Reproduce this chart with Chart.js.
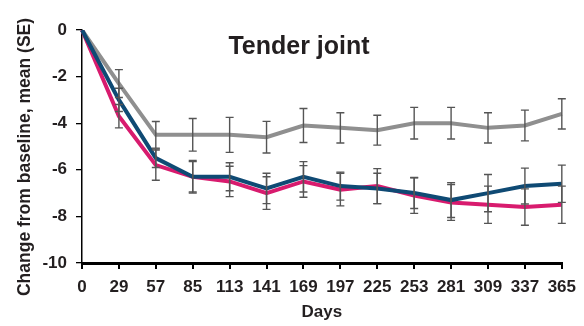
<!DOCTYPE html>
<html>
<head>
<meta charset="utf-8">
<script src="https://cdn.jsdelivr.net/npm/chart.js@4/dist/chart.umd.min.js"></script>
<style>
html,body{margin:0;padding:0;background:#fff;}
#wrap{width:584px;height:326px;}
</style>
</head>
<body>
<div id="wrap"><canvas id="tenderChart"></canvas></div>
<script>
// days on x axis
const days = ["0","29","57","85","113","141","169","197","225","253","281","309","337","365"];

// mean change, three arms
const navyMean = [0,-3.0,-5.5,-6.3,-6.3,-6.8,-6.3,-6.7,-6.8,-7.0,-7.3,-7.0,-6.7,-6.6];
const pinkMean = [0,-3.7,-5.8,-6.3,-6.5,-7.0,-6.5,-6.85,-6.7,-7.1,-7.4,-7.5,-7.6,-7.5];
const grayMean = [0,-2.3,-4.5,-4.5,-4.5,-4.6,-4.1,-4.2,-4.3,-4.0,-4.0,-4.2,-4.1,-3.6];

// SE
const navySE = [0,0.5,0.4,0.65,0.6,0.65,0.65,0.6,0.65,0.66,0.75,0.8,0.77,0.8];
const pinkSE = [0,0.5,0.65,0.7,0.65,0.7,0.68,0.7,0.75,0.77,0.77,0.8,0.78,0.8];
const graySE = [0,0.6,0.57,0.7,0.75,0.68,0.73,0.65,0.64,0.68,0.68,0.65,0.66,0.65];

const yTitle = "Change from baseline, mean (SE)";

const FONT = "'Liberation Sans', Arial, sans-serif";
const TXT = "#231f20";

/* error bars drawn over the lines */
const errorBars = {
  id:"errorBars",
  afterDatasetsDraw(chart){
    const ctx = chart.ctx;
    const x = chart.scales.x, y = chart.scales.y;
    ctx.save();
    ctx.strokeStyle = "#555";
    ctx.lineWidth = 1.4;
    chart.data.datasets.forEach(ds=>{
      ds.data.forEach((v,i)=>{
        const se = ds.se[i];
        if(!se) return;
        const px = x.getPixelForValue(i);
        const top = y.getPixelForValue(v+se);
        const bot = y.getPixelForValue(v-se);
        ctx.beginPath();
        ctx.moveTo(px,top); ctx.lineTo(px,bot);
        ctx.moveTo(px-4,top); ctx.lineTo(px+4,top);
        ctx.moveTo(px-4,bot); ctx.lineTo(px+4,bot);
        ctx.stroke();
      });
    });
    ctx.restore();
  }
};

/* title inside the plot + y axis title (placed a bit below centre like the original) */
const extraText = {
  id:"extraText",
  afterDraw(chart){
    const ctx = chart.ctx;
    const a = chart.chartArea;
    ctx.save();
    ctx.fillStyle = TXT;
    ctx.textAlign = "center";
    ctx.font = "bold 25px " + FONT;
    ctx.textBaseline = "alphabetic";
    ctx.fillText("Tender joint", a.left + 217, a.top + 24);

    ctx.font = "bold 17.5px " + FONT;
    ctx.textBaseline = "middle";
    ctx.translate(25, 157);
    ctx.rotate(-Math.PI/2);
    ctx.fillText(yTitle, 0, 0);
    ctx.restore();
  }
};

const ctx = document.getElementById("tenderChart");

new Chart(ctx,{
  type:"line",
  data:{
    labels:days,
    datasets:[
      {label:"navy", data:navyMean, se:navySE, borderColor:"#0f4a74", borderWidth:4, pointRadius:0, tension:0},
      {label:"pink", data:pinkMean, se:pinkSE, borderColor:"#d81b6e", borderWidth:4, pointRadius:0, tension:0},
      {label:"gray", data:grayMean, se:graySE, borderColor:"#8f8f8f", borderWidth:4, pointRadius:0, tension:0}
    ]
  },
  options:{
    responsive:true,
    maintainAspectRatio:false,
    animation:false,
    layout:{padding:{top:30,right:22,left:0,bottom:0}},
    plugins:{legend:{display:false}, tooltip:{enabled:false}},
    scales:{
      x:{
        type:"category",
        offset:false,
        afterFit(s){ s.height = 63; },
        grid:{drawOnChartArea:false, tickLength:6, color:"#000", lineWidth:2},
        border:{color:"#000", width:3},
        ticks:{color:TXT, font:{family:FONT, size:17, weight:"bold"}, padding:8, maxRotation:0, autoSkip:false},
        title:{display:true, text:"Days", color:TXT, font:{family:FONT, size:17, weight:"bold"}, padding:{top:0,bottom:3}}
      },
      y:{
        min:-10, max:0,
        afterFit(s){ s.width = 82; },
        grid:{drawOnChartArea:false, tickLength:6, color:"#000", lineWidth:1.3},
        border:{color:"#000", width:1.5},
        ticks:{
          stepSize:1,
          color:TXT,
          font:{family:FONT, size:17, weight:"bold"},
          padding:9,
          callback:v=> v % 2 === 0 ? v : ""
        },
        title:{display:false}
      }
    }
  },
  plugins:[errorBars, extraText]
});
</script>
</body>
</html>
